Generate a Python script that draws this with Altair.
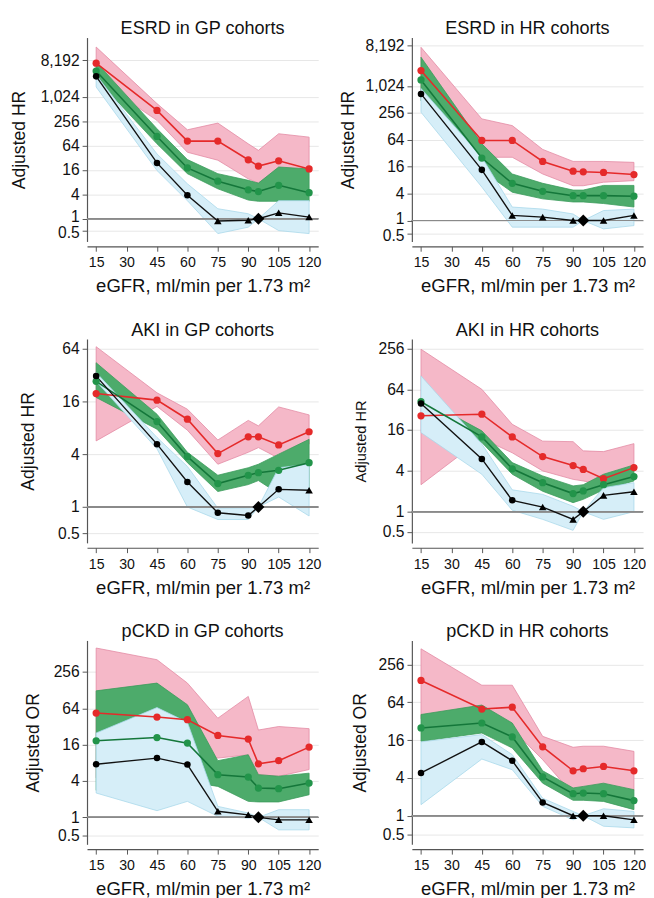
import altair as alt
import pandas as pd

# x positions (eGFR) of every estimate; 95 is the reference point
X = [15, 45, 60, 75, 90, 95, 105, 120]
XTICKS = [15, 30, 45, 60, 75, 90, 105, 120]
TICKS_A = [0.5, 1, 4, 16, 64, 256, 1024, 8192]
TICKS_B = [0.5, 1, 4, 16, 64]
TICKS_C = [0.5, 1, 4, 16, 64, 256]

# ---- ESRD in GP cohorts
esrd_gp_red = [7000, 475, 83, 83, 28.7, 20, 27, 17]
esrd_gp_red_lo = [2800, 270, 44, 28, 9.7, 7.6, 17, 14]
esrd_gp_red_hi = [17500, 700, 158, 231, 71, 49, 126, 104]
esrd_gp_green = [4460, 108, 18, 8.5, 5.2, 4.7, 6.7, 4.4]
esrd_gp_green_lo = [2900, 71, 13, 5.5, 2.9, 2.7, 2.7, 2.7]
esrd_gp_green_hi = [7400, 168, 29, 13, 8.9, 7.6, 19, 17]
esrd_gp_black = [3300, 24, 3.8, 0.88, 0.92, 1, 1.4, 1.1]
esrd_gp_blue_lo = [1800, 15.6, 2.8, 0.43, 0.62, 1, 0.51, 0.43]
esrd_gp_blue_hi = [3600, 40, 7.3, 1.77, 1.33, 1, 2.8, 2.8]
esrd_gp_shape = ["c", "c", "c", "t", "t", "d", "t", "t"]

# ---- ESRD in HR cohorts
esrd_hr_red = [2260, 62, 62, 21, 12.7, 12.3, 11.9, 10.7]
esrd_hr_red_lo = [680, 26, 26, 11, 6, 6, 7.2, 7.8]
esrd_hr_red_hi = [7500, 188, 133, 39, 21, 21, 21, 20]
esrd_hr_green = [1400, 25, 6.8, 4.5, 3.6, 3.6, 3.6, 3.5]
esrd_hr_green_lo = [480, 13, 4.3, 3.05, 2.6, 2.6, 2.4, 2.0]
esrd_hr_green_hi = [4500, 52, 11, 6.8, 4.8, 4.8, 6.1, 6.1]
esrd_hr_black = [680, 13.6, 1.3, 1.19, 1.0, 1, 1.0, 1.3]
esrd_hr_blue_lo = [265, 5.6, 0.71, 0.71, 0.71, 1, 0.65, 0.77]
esrd_hr_blue_hi = [900, 26, 2.0, 1.8, 1.4, 1, 1.67, 1.8]
esrd_hr_shape = ["c", "c", "t", "t", "t", "d", "t", "t"]

# ---- AKI in GP cohorts
aki_gp_red = [19.6, 16.5, 10, 4.06, 6.3, 6.3, 5.1, 7.2]
aki_gp_red_lo = [5.66, 14, 7.5, 3.07, 4.2, 4.75, 3.6, 5.2]
aki_gp_red_hi = [67, 20, 13, 5.8, 9.7, 8.4, 13.8, 11.2]
aki_gp_green = [27, 9.4, 3.75, 1.85, 2.3, 2.46, 2.62, 3.2]
aki_gp_green_lo = [17.7, 7.7, 3.2, 1.5, 1.8, 2.0, 1.42, 1.66]
aki_gp_green_hi = [44, 11.4, 4.2, 2.3, 2.8, 3.07, 4.0, 5.9]
aki_gp_black = [31, 5.2, 1.93, 0.86, 0.80, 1, 1.59, 1.55]
aki_gp_blue_lo = [27, 4.6, 1.0, 0.72, 0.72, 1, 1.3, 0.79]
aki_gp_blue_hi = [34, 6.2, 2.9, 0.97, 0.98, 1, 2.8, 3.07]
aki_gp_shape = ["c", "c", "c", "c", "c", "d", "c", "t"]

# ---- AKI in HR cohorts
aki_hr_red = [26, 27.5, 12.7, 6.5, 4.8, 4.2, 3.07, 4.47]
aki_hr_red_lo = [2.5, 12, 7.4, 4, 3.0, 2.84, 2.5, 4]
aki_hr_red_hi = [250, 64, 19.5, 11, 10.8, 7.9, 7.7, 10.1]
aki_hr_green = [42, 12.7, 4.3, 2.68, 1.85, 2.02, 2.5, 3.3]
aki_hr_green_lo = [36, 10.5, 3.57, 2.0, 1.36, 1.52, 2.1, 2.84]
aki_hr_green_hi = [48, 15.6, 5.3, 3.37, 2.4, 2.5, 3.57, 4.9]
aki_hr_black = [39.5, 6.0, 1.47, 1.17, 0.77, 1, 1.74, 1.97]
aki_hr_blue_lo = [14.7, 3.57, 1.05, 0.77, 0.53, 1, 0.77, 1.0]
aki_hr_blue_hi = [101, 10, 2.1, 1.8, 1.2, 1, 2.26, 2.68]
aki_hr_shape = ["c", "c", "c", "t", "t", "d", "t", "t"]

# ---- pCKD in GP cohorts
pckd_gp_red = [53.5, 46, 41.5, 22.8, 19.8, 7.7, 8.7, 14.6]
pckd_gp_red_lo = [4.5, 5, 10, 9.6, 10.9, 5.1, 4.8, 6.2]
pckd_gp_red_hi = [640, 410, 168, 44, 101, 28, 32, 29.5]
pckd_gp_green = [18.6, 21, 17, 5.1, 4.66, 3.06, 2.99, 3.7]
pckd_gp_green_lo = [2.8, 2.6, 3.9, 3.26, 1.84, 1.8, 1.8, 2.37]
pckd_gp_green_hi = [125, 168, 73.5, 8.7, 10.9, 5.1, 4.8, 5.4]
pckd_gp_black = [7.6, 9.6, 7.5, 1.26, 1.1, 1, 0.91, 0.91]
pckd_gp_blue_lo = [2.53, 1.29, 1.84, 1.04, 0.97, 1, 0.62, 0.62]
pckd_gp_blue_hi = [25, 66, 37.6, 1.52, 1.18, 1, 1.34, 1.34]
pckd_gp_shape = ["c", "c", "c", "t", "t", "d", "t", "t"]

# ---- pCKD in HR cohorts
pckd_hr_red = [143, 50, 53.5, 12.5, 5.2, 5.6, 6.1, 5.2]
pckd_hr_red_lo = [35, 21, 24, 7.8, 2.2, 2.45, 2.9, 2.55]
pckd_hr_red_hi = [456, 120, 120, 18.4, 12.3, 12.8, 12.8, 10.6]
pckd_hr_green = [25, 30, 18, 4.14, 2.24, 2.3, 2.24, 1.74]
pckd_hr_green_lo = [15.3, 20.8, 12, 3.3, 1.76, 1.76, 1.69, 1.25]
pckd_hr_green_hi = [41, 58, 30, 5.2, 2.77, 2.93, 3.3, 2.6]
pckd_hr_black = [4.8, 15, 7.5, 1.63, 1.0, 1, 1.0, 0.86]
pckd_hr_blue_lo = [1.5, 8.0, 5.4, 1.41, 0.86, 1, 0.68, 0.64]
pckd_hr_blue_hi = [15, 19.6, 9.4, 1.9, 1.17, 1, 1.29, 1.17]
pckd_hr_shape = ["c", "c", "c", "c", "t", "d", "t", "t"]

FONT = "Liberation Sans"
XTITLE = "eGFR, ml/min per 1.73 m\u00b2"
W, H = 237, 209

PINK_FILL, PINK_LINE = "#f5b8c8", "#e38aa3"
GREEN_FILL, GREEN_LINE = "#4dab6b", "#3a9a5a"
BLUE_FILL, BLUE_LINE = "#d6eef8", "#a9d8ea"
RED, DGREEN, MGREEN = "#e52a2a", "#14773a", "#22944a"

# nudge the tightly spaced "1" and "0.5" labels apart
LABEL_NUDGE = {"condition": [{"test": "datum.value == 1", "value": -2},
                             {"test": "datum.value < 1", "value": 2}],
               "value": 0}


def panel(title, ytitle, ytitle_size, ytitle_x, yticks, ydomain,
          red, red_lo, red_hi, green, green_lo, green_hi,
          black, blue_lo, blue_hi, shape, nudge=False):
    df = pd.DataFrame({
        "x": X, "red": red, "red_lo": red_lo, "red_hi": red_hi,
        "green": green, "green_lo": green_lo, "green_hi": green_hi,
        "black": black, "blue_lo": blue_lo, "blue_hi": blue_hi,
        "shape": shape,
    })
    base = alt.Chart(df)
    xs = alt.Scale(domain=[10.5, 124.5], nice=False, zero=False)
    ys = alt.Scale(type="log", base=2, domain=ydomain, nice=False)
    xaxis = alt.Axis(values=XTICKS, title=XTITLE, offset=5, grid=False,
                     labelOverlap=False, labelFlush=False, labelFontSize=14.5,
                     titleFontSize=19, titlePadding=8, labelPadding=5, tickSize=5)
    yargs = dict(values=yticks, format=",", title=ytitle, grid=True,
                 labelOverlap=False, labelFontSize=16, labelPadding=3,
                 tickSize=5, titleFontSize=ytitle_size, titleX=ytitle_x,
                 titleBaseline="middle")
    if nudge:
        yargs["labelOffset"] = LABEL_NUDGE
    yaxis = alt.Axis(**yargs)

    def Xe():
        return alt.X("x:Q", scale=xs, axis=xaxis)

    def Y(f):
        return alt.Y(f, type="quantitative", scale=ys, axis=yaxis)

    pink = base.mark_area(fill=PINK_FILL, stroke=PINK_LINE, strokeWidth=0.8).encode(
        x=Xe(), y=Y("red_lo"), y2="red_hi:Q")
    green_band = base.mark_area(fill=GREEN_FILL, stroke=GREEN_LINE, strokeWidth=0.8).encode(
        x=Xe(), y=Y("green_lo"), y2="green_hi:Q")
    blue_band = base.mark_area(fill=BLUE_FILL, stroke=BLUE_LINE, strokeWidth=0.8).encode(
        x=Xe(), y=Y("blue_lo"), y2="blue_hi:Q")
    ref = base.mark_rule(color="#8a8a8a", strokeWidth=1.2).encode(
        y=alt.YDatum(1, type="quantitative", scale=ys, axis=yaxis))

    red_line = base.mark_line(color=RED, strokeWidth=1.6).encode(x=Xe(), y=Y("red"))
    red_pts = base.mark_point(filled=True, shape="circle", size=55, color=RED,
                              opacity=1).encode(x=Xe(), y=Y("red"))
    green_line = base.mark_line(color=DGREEN, strokeWidth=1.6).encode(x=Xe(), y=Y("green"))
    green_pts = base.mark_point(filled=True, shape="circle", size=55, color=MGREEN,
                                opacity=1).encode(x=Xe(), y=Y("green"))
    black_line = base.mark_line(color="#111111", strokeWidth=1.4).encode(x=Xe(), y=Y("black"))
    b_c = base.transform_filter(alt.datum.shape == "c").mark_point(
        filled=True, shape="circle", size=45, color="#000000", opacity=1).encode(x=Xe(), y=Y("black"))
    b_t = base.transform_filter(alt.datum.shape == "t").mark_point(
        filled=True, shape="triangle-up", size=60, color="#000000", opacity=1).encode(x=Xe(), y=Y("black"))
    b_d = base.transform_filter(alt.datum.shape == "d").mark_point(
        filled=True, shape="diamond", size=150, color="#000000", opacity=1).encode(x=Xe(), y=Y("black"))

    return alt.layer(
        pink, green_band, blue_band, ref,
        red_line, green_line, black_line,
        red_pts, green_pts, b_c, b_t, b_d,
    ).properties(
        width=W, height=H,
        title=alt.Title(title, fontSize=18.5, fontWeight="normal", offset=0,
                        anchor="middle", font=FONT, color="#111111"),
    )


p1 = panel("ESRD in GP cohorts", "Adjusted HR", 18, -69, TICKS_A, [0.275, 30000],
           esrd_gp_red, esrd_gp_red_lo, esrd_gp_red_hi,
           esrd_gp_green, esrd_gp_green_lo, esrd_gp_green_hi,
           esrd_gp_black, esrd_gp_blue_lo, esrd_gp_blue_hi, esrd_gp_shape, nudge=True)
p2 = panel("ESRD in HR cohorts", "Adjusted HR", 18, -65, TICKS_A, [0.34, 12400],
           esrd_hr_red, esrd_hr_red_lo, esrd_hr_red_hi,
           esrd_hr_green, esrd_hr_green_lo, esrd_hr_green_hi,
           esrd_hr_black, esrd_hr_blue_lo, esrd_hr_blue_hi, esrd_hr_shape, nudge=True)
p3 = panel("AKI in GP cohorts", "Adjusted HR", 18, -60, TICKS_B, [0.39, 82],
           aki_gp_red, aki_gp_red_lo, aki_gp_red_hi,
           aki_gp_green, aki_gp_green_lo, aki_gp_green_hi,
           aki_gp_black, aki_gp_blue_lo, aki_gp_blue_hi, aki_gp_shape)
p4 = panel("AKI in HR cohorts", "Adjusted HR", 15, -53, TICKS_C, [0.346, 354],
           aki_hr_red, aki_hr_red_lo, aki_hr_red_hi,
           aki_hr_green, aki_hr_green_lo, aki_hr_green_hi,
           aki_hr_black, aki_hr_blue_lo, aki_hr_blue_hi, aki_hr_shape)
p5 = panel("pCKD in GP cohorts", "Adjusted OR", 18, -55, TICKS_C, [0.357, 855],
           pckd_gp_red, pckd_gp_red_lo, pckd_gp_red_hi,
           pckd_gp_green, pckd_gp_green_lo, pckd_gp_green_hi,
           pckd_gp_black, pckd_gp_blue_lo, pckd_gp_blue_hi, pckd_gp_shape)
p6 = panel("pCKD in HR cohorts", "Adjusted OR", 18, -53, TICKS_C, [0.35, 620],
           pckd_hr_red, pckd_hr_red_lo, pckd_hr_red_hi,
           pckd_hr_green, pckd_hr_green_lo, pckd_hr_green_hi,
           pckd_hr_black, pckd_hr_blue_lo, pckd_hr_blue_hi, pckd_hr_shape)

chart = alt.concat(p1, p2, p3, p4, p5, p6, columns=2,
                   spacing={"row": 25, "column": 19}).properties(
    padding={"left": 2, "top": 0, "right": 0, "bottom": 0}
).configure_axis(
    labelFont=FONT, titleFont=FONT, titleFontWeight="normal",
    labelColor="#111111", titleColor="#111111",
    domainColor="#555555", tickColor="#555555", gridColor="#e6e6e6",
    domainWidth=1.2, tickWidth=1,
).configure_view(stroke=None)

chart.save("out.html", embed_options={"renderer": "svg", "actions": False})
